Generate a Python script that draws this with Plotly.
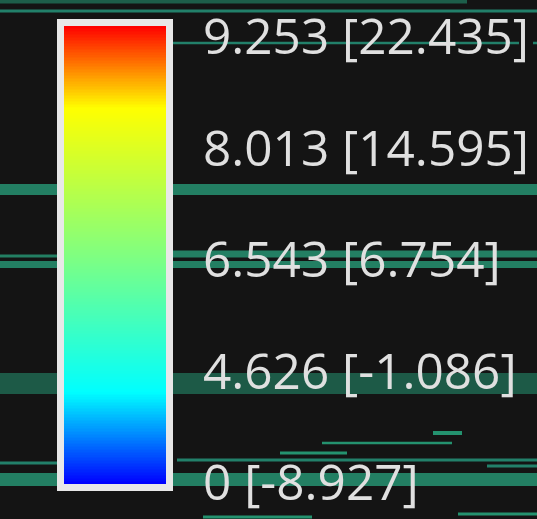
import plotly.graph_objects as go

# ---- data ----
tick_labels = ["0 [-8.927]", "4.626 [-1.086]", "6.543 [6.754]", "8.013 [14.595]", "9.253 [22.435]"]
tick_fracs = [0.0, 0.25, 0.5, 0.75, 1.0]

# colour ramp stops (fraction, colour)
ramp_stops = [0.0, 0.2, 0.5, 0.82, 1.0]
ramp_colors = ["#0000ff", "#00ffff", "#80ff80", "#ffff00", "#ff0000"]

# background horizontal segments: y, x start, x end, thickness, colour
seg_y = [1.5, 11, 43, 43, 189.5, 256, 254, 264.5, 383.5, 463, 460, 466, 479.5, 433, 443, 453, 517, 514]
seg_x0 = [0, 0, 171, 533, 0, 0, 172, 0, 0, 0, 177, 487, 0, 433, 322, 280, 203, 458]
seg_x1 = [467, 537, 519, 537, 537, 57, 537, 537, 537, 57, 537, 537, 537, 462, 452, 347, 312, 537]
seg_w = [4, 3, 2.5, 2.5, 11, 3, 7, 7, 21, 3, 3, 3, 13, 4, 2.5, 3, 3, 3]
seg_c = ["#1d5e4a", "#22806a", "#22806a", "#22806a", "#237f63", "#237f63", "#237f63", "#237f63",
         "#1d5a47", "#22806a", "#22806a", "#22806a", "#237f63", "#24926f", "#24926f", "#24926f",
         "#24926f", "#24926f"]

# ---- geometry (pixels) ----
W, H = 537, 519
bar_x0, bar_x1 = 64, 166
bar_y0, bar_y1 = 26, 484
border = 7
label_x = 203
label_top, label_bottom = 42, 488

fig = go.Figure()

for y, a, b, w, c in zip(seg_y, seg_x0, seg_x1, seg_w, seg_c):
    fig.add_trace(go.Scatter(x=[a, b], y=[y, y], mode="lines",
                             line=dict(color=c, width=w), hoverinfo="skip",
                             showlegend=False, xaxis="x", yaxis="y"))

n = 300
dy = (bar_y1 - bar_y0) / n
ys = [bar_y0 + dy * (i + 0.5) for i in range(n)]
z = [[(bar_y1 - yy) / (bar_y1 - bar_y0)] * 2 for yy in ys]
fig.add_trace(go.Heatmap(z=z, x=[bar_x0 + (bar_x1 - bar_x0) / 4, bar_x0 + 3 * (bar_x1 - bar_x0) / 4],
                         y=ys, zmin=0, zmax=1,
                         colorscale=[[s, c] for s, c in zip(ramp_stops, ramp_colors)],
                         showscale=False, hoverinfo="skip", xaxis="x2", yaxis="y2"))

label_y = [label_bottom - f * (label_bottom - label_top) for f in tick_fracs]
fig.add_trace(go.Scatter(x=[label_x] * len(tick_labels), y=label_y, mode="text",
                         text=tick_labels, textposition="middle right",
                         textfont=dict(family="Open Sans", size=49.5, color="#e0e0e0"),
                         hoverinfo="skip", showlegend=False, xaxis="x2", yaxis="y2"))

fig.add_shape(type="rect", xref="x2", yref="y2",
              x0=bar_x0 - border / 2, x1=bar_x1 + border / 2,
              y0=bar_y0 - border / 2, y1=bar_y1 + border / 2,
              line=dict(color="#e8e8e8", width=border), layer="above")

ax = dict(range=[0, W], visible=False, fixedrange=True)
ay = dict(range=[H, 0], visible=False, fixedrange=True)
fig.update_layout(
    width=W, height=H, margin=dict(l=0, r=0, t=0, b=0),
    paper_bgcolor="#141414", plot_bgcolor="#141414",
    xaxis=ax, yaxis=ay,
    xaxis2=dict(ax, overlaying="x"), yaxis2=dict(ay, overlaying="y"),
    showlegend=False,
)
fig.write_html("out.html", config={"displayModeBar": False},
               post_script="document.body.style.margin='0';document.body.style.background='#141414';document.body.style.overflow='hidden';")
